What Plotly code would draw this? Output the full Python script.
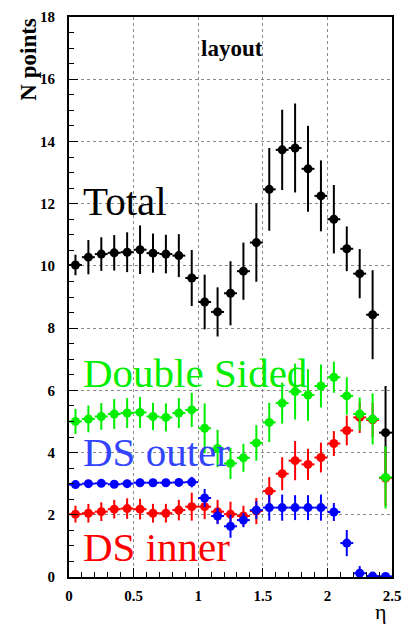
import plotly.graph_objects as go

# eta bin centres (bin width 0.1)
eta = [0.05, 0.15, 0.25, 0.35, 0.45, 0.55, 0.65, 0.75, 0.85, 0.95,
       1.05, 1.15, 1.25, 1.35, 1.45, 1.55, 1.65, 1.75, 1.85, 1.95,
       2.05, 2.15, 2.25, 2.35, 2.45]
eta_halfwidth = [0.05] * len(eta)

total = [10.03, 10.28, 10.38, 10.42, 10.44, 10.52, 10.41, 10.38, 10.33, 9.61,
         8.84, 8.52, 9.12, 9.83, 10.75, 12.46, 13.73, 13.79, 13.12, 12.25,
         11.5, 10.55, 9.75, 8.43, 4.64]
total_err = [0.33, 0.55, 0.54, 0.57, 0.64, 0.78, 0.63, 0.62, 0.69, 0.9,
             0.88, 0.79, 1.03, 0.92, 1.26, 1.33, 1.29, 1.43, 1.38, 1.14,
             1.1, 0.72, 0.79, 1.43, 1.5]

double_sided = [5.0, 5.08, 5.16, 5.24, 5.27, 5.29, 5.16, 5.13, 5.27, 5.37,
                4.78, 4.13, 3.65, 3.83, 4.31, 4.97, 5.59, 5.96, 5.85, 6.14,
                6.42, 5.82, 5.24, 5.08, 3.2]
double_sided_err = [0.4, 0.43, 0.43, 0.48, 0.48, 0.5, 0.44, 0.45, 0.48, 0.55,
                    0.8, 0.6, 0.5, 0.45, 0.57, 0.63, 0.66, 0.9, 0.83, 0.69,
                    0.5, 0.6, 0.53, 0.82, 1.0]

ds_outer = [2.97, 3.0, 3.01, 2.98, 3.0, 3.03, 3.03, 3.03, 3.04, 3.05,
            2.54, 1.96, 1.63, 1.83, 2.15, 2.23, 2.23, 2.23, 2.23, 2.23,
            2.09, 1.09, 0.12, 0.03, 0.02]
ds_outer_err = [0.12, 0.12, 0.12, 0.12, 0.12, 0.13, 0.12, 0.12, 0.13, 0.17,
                0.29, 0.26, 0.37, 0.23, 0.29, 0.42, 0.42, 0.4, 0.4, 0.42,
                0.29, 0.42, 0.23, 0.05, 0.05]

ds_inner = [2.02, 2.05, 2.1, 2.18, 2.2, 2.18, 2.05, 2.05, 2.15, 2.26,
            2.26, 2.1, 2.02, 1.96, 2.12, 2.76, 3.32, 3.74, 3.62, 3.84,
            4.29, 4.71, 5.13, 5.05, 3.18]
ds_inner_err = [0.27, 0.3, 0.3, 0.3, 0.33, 0.33, 0.3, 0.3, 0.33, 0.45,
                0.4, 0.38, 0.4, 0.33, 0.42, 0.45, 0.53, 0.63, 0.5, 0.48,
                0.4, 0.48, 0.5, 0.55, 0.9]

x_ticks = [0, 0.5, 1, 1.5, 2, 2.5]
x_tick_text = ["0", "0.5", "1", "1.5", "2", "2.5"]
y_ticks = [0, 2, 4, 6, 8, 10, 12, 14, 16, 18]
y_tick_text = [str(v) for v in y_ticks]

SERIF = "Liberation Serif"

series = [
    ("Total", total, total_err, "#000000"),
    ("DS inner", ds_inner, ds_inner_err, "#ff0000"),
    ("Double Sided", double_sided, double_sided_err, "#00ee00"),
    ("DS outer", ds_outer, ds_outer_err, "#0000ff"),
]

fig = go.Figure()
for name, yv, ye, col in series:
    fig.add_trace(go.Scatter(
        x=eta, y=yv, mode="markers", name=name,
        marker=dict(symbol="circle", size=9, color=col),
        error_y=dict(type="data", array=ye, color=col, thickness=2, width=0),
        error_x=dict(type="data", array=eta_halfwidth, color=col, thickness=2, width=0),
        showlegend=False,
    ))

axis_common = dict(
    showline=True, linecolor="black", linewidth=2, mirror=True,
    ticks="inside", ticklen=9, tickwidth=1, tickcolor="black",
    showgrid=True, gridcolor="#8a8a8a", griddash="dot", gridwidth=1,
    zeroline=False,
    tickfont=dict(family=SERIF, size=15, color="black", weight="bold"),
)

fig.update_xaxes(
    range=[0, 2.5], tickmode="array", tickvals=x_ticks, ticktext=x_tick_text,
    minor=dict(ticks="inside", ticklen=5, dtick=0.1, tickcolor="black", showgrid=False),
    ticklabelstandoff=4,
    **axis_common,
)
fig.update_yaxes(
    range=[0, 18], tickmode="array", tickvals=y_ticks, ticktext=y_tick_text,
    minor=dict(ticks="inside", ticklen=5, dtick=0.5, tickcolor="black", showgrid=False),
    ticklabelstandoff=9,
    **axis_common,
)

labels = [
    ("Total", 0.038, (577 - 196) / 568, "black"),
    ("Double Sided", 0.038, (577 - 370) / 568, "#00ee00"),
    ("DS outer", 0.038, (577 - 450) / 568, "#3344ff"),
    ("DS inner", 0.038, (577 - 547) / 568, "#ff0000"),
]
for txt, px, py, col in labels:
    fig.add_annotation(
        text=txt, xref="paper", yref="paper", x=px, y=py,
        xanchor="left", yanchor="middle", showarrow=False,
        font=dict(family=SERIF, size=41, color=col),
    )

fig.add_annotation(
    text="layout", xref="paper", yref="paper", x=0.505, y=(577 - 41) / 568,
    xanchor="center", yanchor="middle", showarrow=False,
    font=dict(family=SERIF, size=23, color="black", weight="bold"),
)
fig.add_annotation(
    text="N points", xref="paper", yref="paper", x=-0.128, y=1.0,
    xanchor="center", yanchor="top", textangle=-90, showarrow=False,
    font=dict(family=SERIF, size=23, color="black", weight="bold"),
)
fig.add_annotation(
    text="η", xref="paper", yref="paper", x=0.966, y=(577 - 612) / 568,
    xanchor="center", yanchor="middle", showarrow=False,
    font=dict(family=SERIF, size=22, color="black"),
)

fig.update_layout(
    width=410, height=630,
    margin=dict(l=69, r=14, t=9, b=53),
    paper_bgcolor="white", plot_bgcolor="white",
)

fig.write_html("out.html")
